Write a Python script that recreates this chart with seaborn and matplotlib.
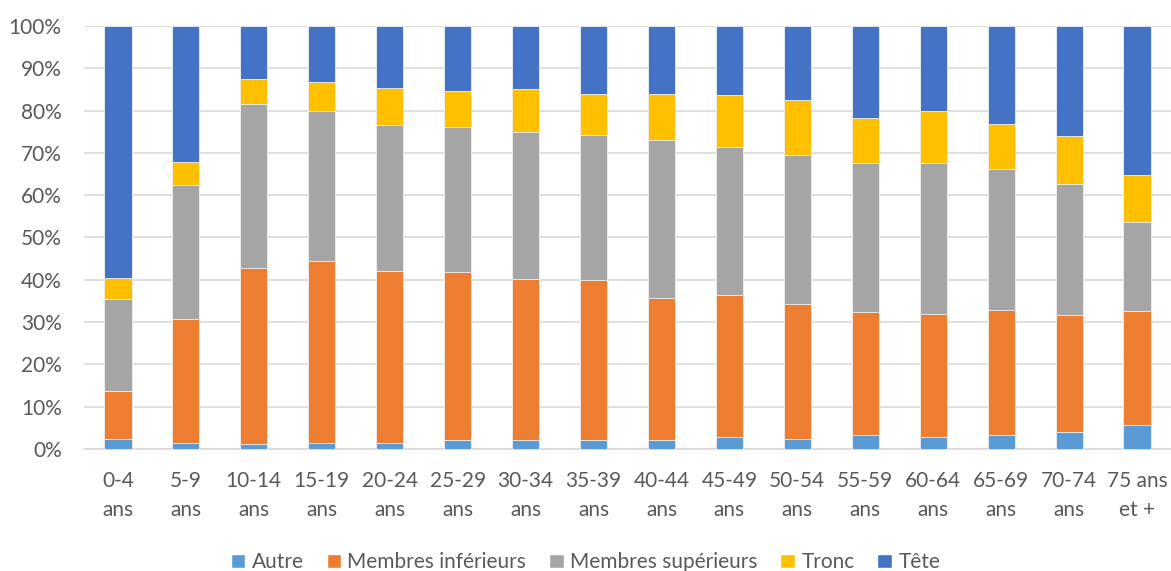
import numpy as np
import pandas as pd
import matplotlib
matplotlib.use('Agg')
import matplotlib.pyplot as plt
import seaborn as sns
from matplotlib.patches import Patch
from matplotlib.ticker import PercentFormatter

# Age groups
groupes = ['0-4\nans', '5-9\nans', '10-14\nans', '15-19\nans', '20-24\nans',
           '25-29\nans', '30-34\nans', '35-39\nans', '40-44\nans', '45-49\nans',
           '50-54\nans', '55-59\nans', '60-64\nans', '65-69\nans', '70-74\nans',
           '75 ans\net +']

# Share of each body zone (%)
autre = [2.3, 1.3, 1.1, 1.5, 1.5, 2.2, 2.2, 2.2, 2.1, 2.8, 2.3, 3.2, 2.8, 3.2, 4.1, 5.6]
membres_inf = [11.3, 29.4, 41.8, 42.9, 40.6, 39.7, 38.1, 37.8, 33.7, 33.6, 31.9, 29.1, 29.0, 29.7, 27.5, 27.0]
membres_sup = [21.9, 31.6, 38.7, 35.6, 34.6, 34.2, 34.6, 34.3, 37.2, 34.9, 35.3, 35.4, 35.9, 33.2, 31.1, 21.1]
tronc = [4.9, 5.5, 5.9, 6.8, 8.6, 8.6, 10.1, 9.7, 10.9, 12.4, 12.9, 10.5, 12.1, 10.7, 11.4, 11.0]
tete = [59.6, 32.2, 12.5, 13.2, 14.7, 15.3, 15.0, 16.0, 16.1, 16.3, 17.6, 21.8, 20.2, 23.2, 25.9, 35.3]

series = ['Autre', 'Membres inférieurs', 'Membres supérieurs', 'Tronc', 'Tête']
couleurs = ['#5B9BD5', '#ED7D31', '#A5A5A5', '#FFC000', '#4472C4']

df = pd.DataFrame({'groupe': groupes, 'Autre': autre,
                   'Membres inférieurs': membres_inf,
                   'Membres supérieurs': membres_sup,
                   'Tronc': tronc, 'Tête': tete})
cumul = df[series].cumsum(axis=1)

sns.set_theme(style='white')
plt.rcParams['font.family'] = ['Lato', 'DejaVu Sans']

fig = plt.figure(figsize=(11.71, 5.71), dpi=100)
ax = fig.add_axes([0.0717, 0.2137, 0.9283, 0.7408])

# draw cumulative layers from the top down so each one covers the previous
for nom, col in zip(series[::-1], couleurs[::-1]):
    sns.barplot(x=df['groupe'], y=cumul[nom] / 100, color=col, width=0.4,
                saturation=1, edgecolor='#f2f2f2', linewidth=0.6, ax=ax, zorder=3)

ax.set_ylim(0, 1)
ax.set_xlim(-0.5, len(groupes) - 0.5)
ax.yaxis.set_major_formatter(PercentFormatter(1.0, decimals=0))
ax.set_yticks(np.arange(0, 1.01, 0.1))
ax.grid(axis='y', color='#d9d9d9', linewidth=1.2, zorder=0)
ax.set_axisbelow(True)
ax.set_xlabel('')
ax.set_ylabel('')
for s in ['top', 'right', 'left']:
    ax.spines[s].set_visible(False)
ax.spines['bottom'].set_color('#d9d9d9')
ax.spines['bottom'].set_linewidth(1.2)

# tick marks between categories
ax.set_xticks(np.arange(len(groupes)))
ax.set_xticks(np.arange(-0.5, len(groupes), 1), minor=True)
ax.tick_params(axis='x', which='major', length=0, pad=16)
ax.tick_params(axis='x', which='minor', length=6, color='#d9d9d9', width=1.2)
ax.tick_params(axis='y', length=0, pad=16)
ax.set_xticklabels(groupes, fontsize=15, color='#595959', linespacing=1.55)
for t in ax.get_yticklabels():
    t.set_fontsize(15)
    t.set_color('#595959')

handles = [Patch(facecolor=c, label=n) for n, c in zip(series, couleurs)]
fig.legend(handles=handles, loc='center', bbox_to_anchor=(0.5, 0.015), ncol=5,
           frameon=False, fontsize=15, handlelength=0.7, handleheight=0.7,
           handletextpad=0.3, columnspacing=1.1, labelcolor='#595959')

fig.savefig('out.png', dpi=100)
